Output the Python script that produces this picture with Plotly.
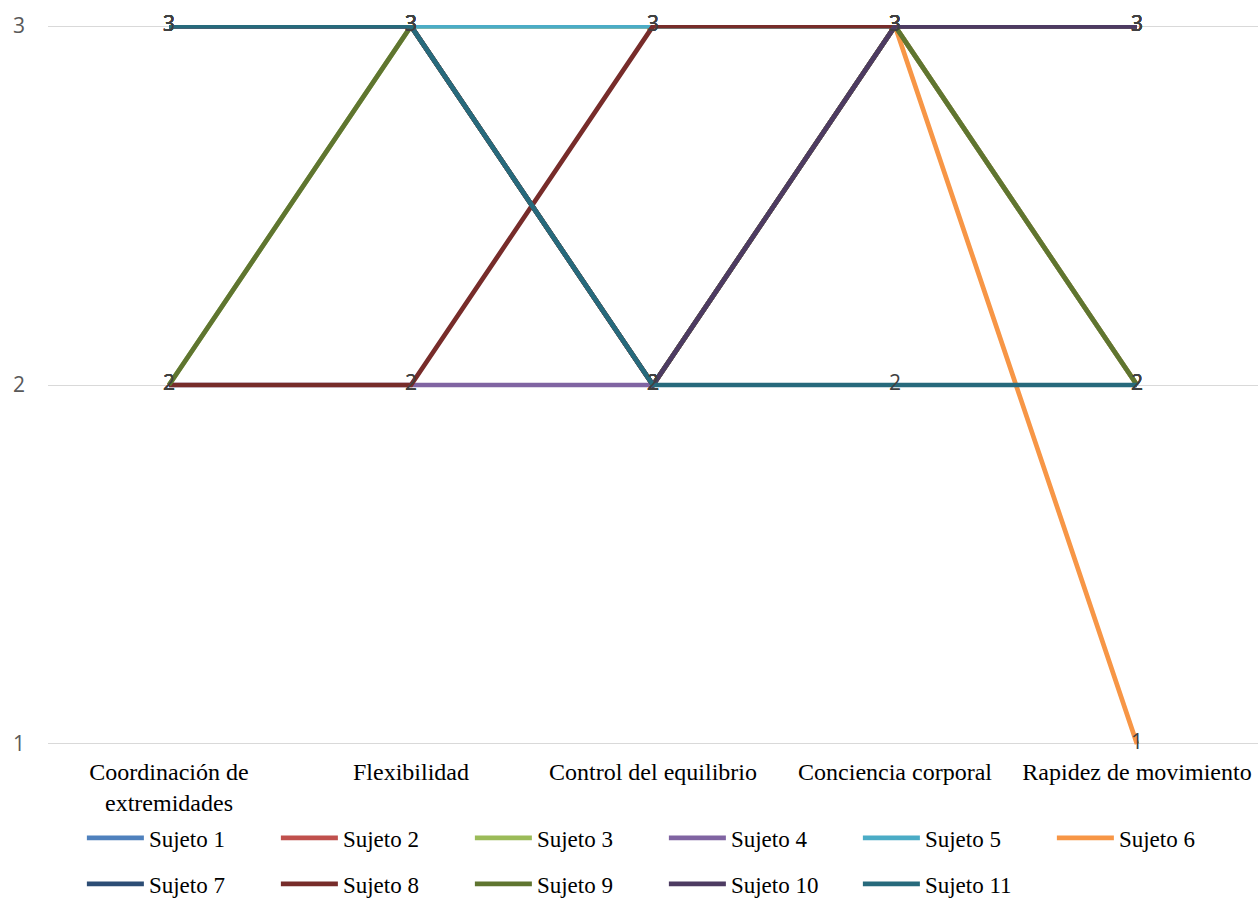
import plotly.graph_objects as go

categories = ["Coordinación de<br>extremidades", "Flexibilidad", "Control del equilibrio",
              "Conciencia corporal", "Rapidez de movimiento"]

subjects = [f"Sujeto {i}" for i in range(1, 12)]

scores = {
    "Sujeto 1": [3, 3, 3, 3, 3],
    "Sujeto 2": [3, 3, 2, 3, 2],
    "Sujeto 3": [2, 3, 3, 3, 2],
    "Sujeto 4": [2, 2, 2, 3, 3],
    "Sujeto 5": [3, 3, 3, 3, 3],
    "Sujeto 6": [3, 3, 2, 3, 1],
    "Sujeto 7": [3, 3, 2, 3, 3],
    "Sujeto 8": [2, 2, 3, 3, 3],
    "Sujeto 9": [2, 3, 2, 3, 2],
    "Sujeto 10": [3, 3, 2, 3, 3],
    "Sujeto 11": [3, 3, 2, 2, 2],
}

colors = ["#4F81BD", "#C0504D", "#9BBB59", "#8064A2", "#4BACC6", "#F79646",
          "#2C4D75", "#772C2A", "#5F7530", "#4D3B62", "#276A7C"]

y_ticks = [1, 2, 3]

serif = "Liberation Serif, Times New Roman, serif"
sans = "Open Sans, sans-serif"

fig = go.Figure()
for i, name in enumerate(subjects):
    vals = scores[name]
    fig.add_trace(go.Scatter(
        x=categories, y=vals, name=name,
        mode="lines+text",
        text=[str(v) for v in vals],
        textposition="middle center",
        textfont=dict(family=sans, size=21, color="#404040"),
        line=dict(color=colors[i], width=4.7),
        cliponaxis=False,
        legend="legend" if i < 6 else "legend2",
    ))

legend_common = dict(
    orientation="h", xanchor="left", yanchor="middle",
    font=dict(family=serif, size=23, color="#000000"),
    entrywidth=122, entrywidthmode="pixels", itemwidth=57,
    bgcolor="rgba(0,0,0,0)", tracegroupgap=0,
)

fig.update_layout(
    width=1258, height=898,
    margin=dict(l=48, r=0, t=25, b=153, autoexpand=False),
    paper_bgcolor="white", plot_bgcolor="white",
    xaxis=dict(
        type="category", range=[-0.5, 4.5],
        showgrid=False, showline=False, zeroline=False, ticks="",
        tickfont=dict(family=serif, size=24, color="#000000"),
        ticklabelstandoff=10,
    ),
    yaxis=dict(
        range=[0.997, 3.003], tickvals=y_ticks, ticktext=[str(t) for t in y_ticks],
        showgrid=True, gridcolor="#D9D9D9", gridwidth=1.3,
        zeroline=False, showline=False, ticks="",
        tickfont=dict(family=sans, size=21, color="#595959"),
        ticklabelstandoff=22,
    ),
    legend=dict(x=0.028, y=-0.129, **legend_common),
    legend2=dict(x=0.028, y=-0.193, **legend_common),
)

fig.write_html("out.html")
